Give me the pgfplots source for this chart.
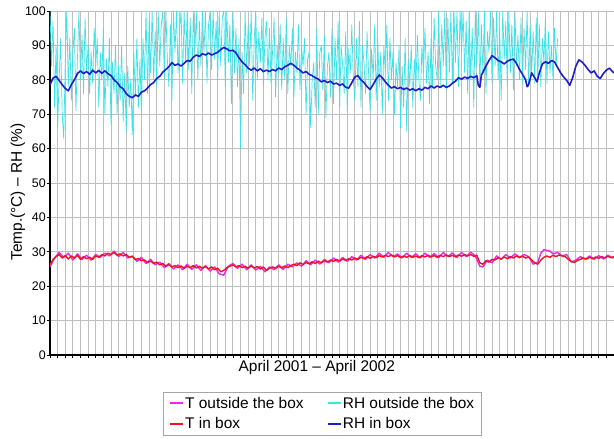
\documentclass[border=0pt]{standalone}
\usepackage{pgfplots}
\usepackage{pgfplotstable}
\pgfplotsset{compat=1.18}
\usepackage{fontspec}
\setmainfont{Liberation Sans}

\definecolor{tout}{RGB}{236,40,236}
\definecolor{tin}{RGB}{236,20,30}
\definecolor{rhout}{RGB}{60,226,232}
\definecolor{rhin}{RGB}{30,30,200}

% RH outside the box, one value per day (day 0 = start of April 2001)
\pgfplotstableread[row sep=\\]{
val\\
100\\ 84\\ 97\\ 72\\ 90\\ 66\\ 80\\ 92\\ 70\\ 63\\
85\\ 100\\ 78\\ 92\\ 74\\ 88\\ 95\\ 71\\ 86\\ 100\\
80\\ 93\\ 76\\ 98\\ 82\\ 90\\ 76\\ 88\\ 79\\ 95\\
84\\ 92\\ 72\\ 88\\ 80\\ 95\\ 70\\ 86\\ 78\\ 92\\
67\\ 85\\ 76\\ 90\\ 70\\ 84\\ 74\\ 90\\ 68\\ 82\\
65\\ 84\\ 72\\ 80\\ 64\\ 88\\ 75\\ 92\\ 72\\ 86\\
70\\ 92\\ 80\\ 100\\ 76\\ 97\\ 82\\ 100\\ 80\\ 94\\
78\\ 100\\ 84\\ 96\\ 100\\ 80\\ 100\\ 86\\ 78\\ 96\\
74\\ 100\\ 88\\ 100\\ 82\\ 94\\ 100\\ 79\\ 100\\ 85\\
100\\ 83\\ 98\\ 76\\ 100\\ 88\\ 100\\ 80\\ 97\\ 84\\
100\\ 88\\ 100\\ 79\\ 96\\ 100\\ 83\\ 100\\ 86\\ 97\\
80\\ 100\\ 84\\ 98\\ 100\\ 78\\ 100\\ 85\\ 96\\ 73\\
100\\ 82\\ 95\\ 78\\ 92\\ 60\\ 88\\ 76\\ 100\\ 82\\
96\\ 84\\ 100\\ 74\\ 92\\ 100\\ 80\\ 94\\ 85\\ 98\\
78\\ 92\\ 97\\ 80\\ 95\\ 79\\ 88\\ 98\\ 75\\ 90\\
82\\ 96\\ 77\\ 92\\ 80\\ 98\\ 76\\ 90\\ 84\\ 95\\
75\\ 88\\ 82\\ 96\\ 77\\ 90\\ 84\\ 92\\ 70\\ 86\\
88\\ 66\\ 80\\ 85\\ 72\\ 95\\ 70\\ 88\\ 90\\ 77\\
93\\ 69\\ 84\\ 88\\ 75\\ 95\\ 73\\ 92\\ 80\\ 97\\
72\\ 90\\ 84\\ 76\\ 94\\ 71\\ 89\\ 82\\ 96\\ 80\\
74\\ 92\\ 78\\ 97\\ 72\\ 90\\ 85\\ 76\\ 94\\ 82\\
71\\ 89\\ 80\\ 96\\ 74\\ 92\\ 78\\ 88\\ 70\\ 90\\
82\\ 96\\ 74\\ 92\\ 80\\ 88\\ 70\\ 85\\ 78\\ 90\\
66\\ 84\\ 72\\ 92\\ 65\\ 86\\ 78\\ 90\\ 72\\ 86\\
77\\ 93\\ 80\\ 74\\ 90\\ 82\\ 95\\ 79\\ 88\\ 73\\
92\\ 78\\ 98\\ 84\\ 80\\ 100\\ 78\\ 96\\ 84\\ 100\\
77\\ 98\\ 82\\ 100\\ 79\\ 100\\ 85\\ 100\\ 78\\ 100\\
88\\ 100\\ 82\\ 97\\ 76\\ 100\\ 80\\ 95\\ 72\\ 100\\
84\\ 100\\ 78\\ 96\\ 82\\ 100\\ 76\\ 94\\ 88\\ 100\\
79\\ 98\\ 84\\ 100\\ 80\\ 95\\ 74\\ 100\\ 86\\ 97\\
78\\ 100\\ 82\\ 96\\ 77\\ 100\\ 84\\ 93\\ 80\\ 98\\
79\\ 95\\ 83\\ 100\\ 78\\ 96\\ 82\\ 94\\ 79\\ 98\\
80\\ 96\\ 78\\ 92\\ 85\\ 98\\ 79\\ 94\\ 82\\ 90\\
80\\ 95\\ 84\\ 92\\
}\rhoutside

\pgfplotstableread[row sep=\\]{
day val\\
0 78.5\\ 2 80.5\\ 4 81\\ 6 79.8\\ 8 78.6\\ 10 77.5\\ 12 76.8\\ 14 78.6\\ 16 80\\ 18 81.8\\
20 82.6\\ 22 81.8\\ 24 82.4\\ 26 81.6\\ 28 82.8\\ 30 82\\ 32 82.7\\ 34 81.9\\ 36 82.6\\ 38 81.8\\
40 81.2\\ 42 80\\ 44 79.2\\ 46 78\\ 48 77.4\\ 50 76\\ 52 75.2\\ 54 74.8\\ 56 75.6\\ 58 75.2\\
60 76.4\\ 62 76.8\\ 64 77.6\\ 66 78.6\\ 68 79.2\\ 70 80.4\\ 72 81\\ 74 82.2\\ 76 83\\ 78 83.8\\
80 85\\ 82 84.2\\ 84 84.6\\ 86 84\\ 88 84.8\\ 90 85.6\\ 92 85.4\\ 94 86.6\\ 96 87.2\\ 98 86.8\\
100 87.6\\ 102 87.2\\ 104 87.8\\ 106 87.2\\ 108 87.6\\ 110 88\\ 112 88.8\\ 114 89.4\\ 116 89\\ 118 88.4\\
120 88.6\\ 122 87.8\\ 124 86.4\\ 126 85.2\\ 128 84.4\\ 130 83.4\\ 132 82.8\\ 134 83.4\\ 136 82.6\\ 138 83.2\\
140 82.4\\ 142 82.8\\ 144 82.4\\ 146 83\\ 148 82.6\\ 150 83.4\\ 152 83\\ 154 83.8\\ 156 84.2\\ 158 84.8\\
160 84.2\\ 162 83.4\\ 164 82.8\\ 166 82\\ 168 82.4\\ 170 81.6\\ 172 81.2\\ 174 80.6\\ 176 80.2\\ 178 79.4\\
180 79.8\\ 182 79.2\\ 184 79.6\\ 186 78.8\\ 188 79\\ 190 78.4\\ 192 78.8\\ 194 77.8\\ 196 77.6\\ 198 79.2\\
200 80.8\\ 202 81.2\\ 204 80\\ 206 79.2\\ 208 78\\ 210 77.2\\ 212 78.6\\ 214 80.2\\ 216 81.4\\ 218 80.6\\
220 79.4\\ 222 78.4\\ 224 77.6\\ 226 78\\ 228 77.4\\ 230 77.8\\ 232 77.2\\ 234 77.6\\ 236 77\\ 238 77.4\\
240 76.8\\ 242 77.4\\ 244 77\\ 246 77.8\\ 248 77.4\\ 250 78.2\\ 252 77.6\\ 254 78.2\\ 256 77.8\\ 258 78.4\\
260 77.8\\ 262 78.2\\ 264 79\\ 266 79.6\\ 268 80.6\\ 270 80.2\\ 272 80.8\\ 274 80.4\\ 276 81\\ 278 80.6\\
280 81.2\\ 281 78.4\\ 282 77.8\\ 283 81.4\\ 284 82.2\\ 286 84\\ 288 85.6\\ 290 87\\ 292 86.4\\ 294 85.6\\
296 85.2\\ 298 84.6\\ 300 85.4\\ 302 85.8\\ 304 86\\ 306 84.8\\ 308 83\\ 310 81.6\\ 312 80\\ 313 78\\
314 78.6\\ 316 82\\ 318 80.6\\ 319.5 79.4\\ 321 82\\ 323 84.6\\ 325 85.2\\ 327 84.8\\ 329 85.6\\ 331 85.2\\
333 83.6\\ 335 82\\ 337 80.8\\ 339 79.8\\ 341 78.4\\ 343 80.8\\ 345 84\\ 347 85.8\\ 349 85.2\\ 351 84.2\\
353 83\\ 355 82\\ 357 82.6\\ 359 81\\ 361 80.4\\ 363 81.8\\ 365 82.8\\ 367 83.4\\ 369 82.4\\ 370 82\\
}\rhinside

\pgfplotstableread[row sep=\\]{
day val\\
0 25.6\\ 3 28.2\\ 6 29.8\\ 9 28.4\\ 12 29.6\\ 15 27.6\\ 18 29.4\\ 21 27.8\\ 24 29\\ 27 27.6\\
30 29.2\\ 33 28.4\\ 36 29.6\\ 39 28.8\\ 42 30.2\\ 45 28.6\\ 48 29.8\\ 51 28.2\\ 54 28.8\\ 57 27.2\\
60 28.4\\ 63 26.6\\ 66 27.8\\ 69 26.2\\ 72 27\\ 75 25.4\\ 78 26.6\\ 81 25\\ 84 26.2\\ 87 24.8\\
90 26.4\\ 93 24.9\\ 96 26.2\\ 99 24.6\\ 102 26\\ 105 24.4\\ 108 25.6\\ 111 23.6\\ 114 23.2\\ 117 25.8\\
120 26.6\\ 123 25.2\\ 126 26.4\\ 129 24.8\\ 132 26.2\\ 135 24.7\\ 138 25.8\\ 141 24.2\\ 144 25.6\\ 147 24.8\\
150 26.2\\ 153 24.9\\ 156 26.4\\ 159 25.6\\ 162 26.8\\ 165 25.8\\ 168 27.4\\ 171 26.2\\ 174 27.6\\ 177 26.4\\
180 27.8\\ 183 26.8\\ 186 28.2\\ 189 27\\ 192 28.4\\ 195 27.2\\ 198 28.6\\ 201 27.6\\ 204 29\\ 207 27.8\\
210 29.2\\ 213 28.2\\ 216 29.6\\ 219 28.4\\ 222 29.8\\ 225 28.6\\ 228 29.4\\ 231 28.2\\ 234 29.6\\ 237 28.4\\
240 29.4\\ 243 28.2\\ 246 29.6\\ 249 28.4\\ 252 29.5\\ 255 28.3\\ 258 29.8\\ 261 28.6\\ 264 29.7\\ 267 28.4\\
270 29.8\\ 273 28.6\\ 276 29.9\\ 279 28.8\\ 282 25.8\\ 284 25.6\\ 287 27.6\\ 290 26.8\\ 293 28.8\\ 296 27.8\\
299 29.2\\ 302 28.2\\ 305 29.4\\ 308 28.4\\ 311 29.2\\ 314 28.6\\ 317 26.4\\ 320 27\\ 322 29.6\\ 324 30.6\\
326 30.4\\ 328 30.2\\ 330 29.4\\ 333 29.8\\ 336 28.8\\ 339 29.2\\ 342 27\\ 345 27.6\\ 348 28.6\\ 351 27.8\\
354 28.8\\ 357 27.8\\ 360 28.9\\ 363 27.9\\ 366 29\\ 369 28.2\\ 370 28.6\\
}\toutside

\pgfplotstableread[row sep=\\]{
day val\\
0 26.2\\ 2 27.8\\ 4 28.6\\ 6 29.2\\ 8 28.2\\ 10 28.9\\ 12 27.9\\ 14 28.8\\ 16 28.2\\ 18 29\\
20 27.8\\ 22 28.6\\ 24 28\\ 26 28.4\\ 28 27.8\\ 30 28.8\\ 32 28.4\\ 34 29.2\\ 36 28.8\\ 38 29.6\\
40 29.2\\ 42 29.8\\ 44 29\\ 46 29.4\\ 48 28.8\\ 50 29.2\\ 52 28.4\\ 54 28.6\\ 56 27.8\\ 58 28\\
60 27.4\\ 62 27.6\\ 64 26.9\\ 66 27.3\\ 68 26.6\\ 70 27\\ 72 26.2\\ 74 26.6\\ 76 25.8\\ 78 26.3\\
80 25.6\\ 82 26\\ 84 25.4\\ 86 25.9\\ 88 25.2\\ 90 25.8\\ 92 25.4\\ 94 26\\ 96 25.3\\ 98 25.8\\
100 25.2\\ 102 25.7\\ 104 25\\ 106 25.6\\ 108 24.8\\ 110 25.2\\ 112 24.2\\ 114 24.6\\ 116 25.4\\ 118 25.8\\
120 26.2\\ 122 25.6\\ 124 26\\ 126 25.4\\ 128 25.8\\ 130 25.2\\ 132 25.9\\ 134 25.3\\ 136 25.7\\ 138 25\\
140 25.6\\ 142 24.6\\ 144 25.2\\ 146 25.6\\ 148 25.2\\ 150 25.8\\ 152 25.3\\ 154 25.9\\ 156 25.4\\ 158 26\\
160 26.4\\ 162 26\\ 164 26.8\\ 166 26.3\\ 168 26.9\\ 170 26.5\\ 172 27.1\\ 174 26.6\\ 176 27.3\\ 178 26.8\\
180 27.4\\ 182 27\\ 184 27.6\\ 186 27.2\\ 188 27.8\\ 190 27.3\\ 192 27.9\\ 194 27.5\\ 196 28\\ 198 27.6\\
200 28.2\\ 202 27.8\\ 204 28.4\\ 206 28\\ 208 28.6\\ 210 28.1\\ 212 28.7\\ 214 28.3\\ 216 28.9\\ 218 28.5\\
220 29\\ 222 28.6\\ 224 29.1\\ 226 28.5\\ 228 28.9\\ 230 28.3\\ 232 28.8\\ 234 28.4\\ 236 28.9\\ 238 28.4\\
240 28.8\\ 242 28.3\\ 244 28.9\\ 246 28.5\\ 248 29\\ 250 28.5\\ 252 28.9\\ 254 28.4\\ 256 29\\ 258 28.6\\
260 29.1\\ 262 28.6\\ 264 29\\ 266 28.5\\ 268 29.1\\ 270 28.7\\ 272 29.2\\ 274 28.8\\ 276 29.2\\ 278 28.7\\
280 29\\ 282 26.8\\ 284 26.4\\ 286 27.4\\ 288 27\\ 290 27.8\\ 292 27.6\\ 294 28.3\\ 296 27.9\\ 298 28.5\\
300 28\\ 302 28.6\\ 304 28.2\\ 306 28.8\\ 308 28.3\\ 310 28.7\\ 312 28.2\\ 314 28.5\\ 316 27.6\\ 318 26.8\\
320 26.4\\ 322 27.6\\ 324 28.4\\ 326 28.8\\ 328 28.4\\ 330 29\\ 332 28.6\\ 334 29.1\\ 336 28.8\\ 338 28.6\\
340 27.8\\ 342 27.2\\ 344 26.9\\ 346 27.5\\ 348 27.8\\ 350 28.2\\ 352 27.9\\ 354 28.4\\ 356 28\\ 358 28.5\\
360 28.1\\ 362 28.6\\ 364 28.2\\ 366 28.7\\ 368 28.3\\ 370 28.6\\
}\tinside

\begin{document}
\begin{tikzpicture}
\begin{axis}[
    scale only axis,
    width=564bp, height=344bp,
    xmin=0, xmax=370, ymin=0, ymax=100,
    axis x line*=bottom, axis y line*=left,
    axis line style={black, line width=1.3bp},
    xtick={0,5,...,370}, xticklabels={},
    ytick={0,10,...,100},
    tick align=outside, major tick length=3bp,
    tick style={black, line width=0.8bp},
    grid=major, grid style={black!25, line width=0.9bp},
    tick label style={font=\fontsize{12.5}{14}\selectfont},
    yticklabel style={inner xsep=1bp},
    /pgf/number format/assume math mode=true,
    xlabel={April 2001 -- April 2002},
    ylabel={Temp.(°C) -- RH (\%)},
    label style={font=\fontsize{15.5}{18}\selectfont},
    xlabel style={at={(axis description cs:0.473,-0.035)}, anchor=center},
    ylabel style={at={(axis description cs:-0.057,0.474)}, anchor=center},
    legend columns=2,
    legend cell align=left,
    legend style={at={(axis description cs:0.2,-0.1076)}, anchor=north west,
        draw=black!35, font=\fontsize{15.5}{18}\selectfont,
        inner xsep=6bp, inner ysep=1bp,
        /tikz/every even column/.append style={column sep=22bp},
        /tikz/every node/.append style={inner xsep=1bp, inner ysep=3.8bp}},
    legend image code/.code={\draw[#1, line width=2.2bp] (0bp,0bp) -- (13bp,0bp);},
    every axis plot/.append style={line join=round},
]
\addplot[tout, line width=1.4bp] table[x=day, y=val] {\toutside};
\addlegendentry{T outside the box}
\addplot[rhout, line width=0.7bp] table[x expr=\coordindex, y=val] {\rhoutside};
\addlegendentry{RH outside the box}
\addplot[tin, line width=1.4bp] table[x=day, y=val] {\tinside};
\addlegendentry{T in box}
\addplot[rhin, line width=1.6bp] table[x=day, y=val] {\rhinside};
\addlegendentry{RH in box}
\coordinate (bl) at (rel axis cs:0,0);
\coordinate (tr) at (rel axis cs:1,1);
\end{axis}
\pgfresetboundingbox
\path[use as bounding box] ([shift={(-50bp,-84bp)}]bl) rectangle ([shift={(0bp,11bp)}]tr);
\end{tikzpicture}
\end{document}
